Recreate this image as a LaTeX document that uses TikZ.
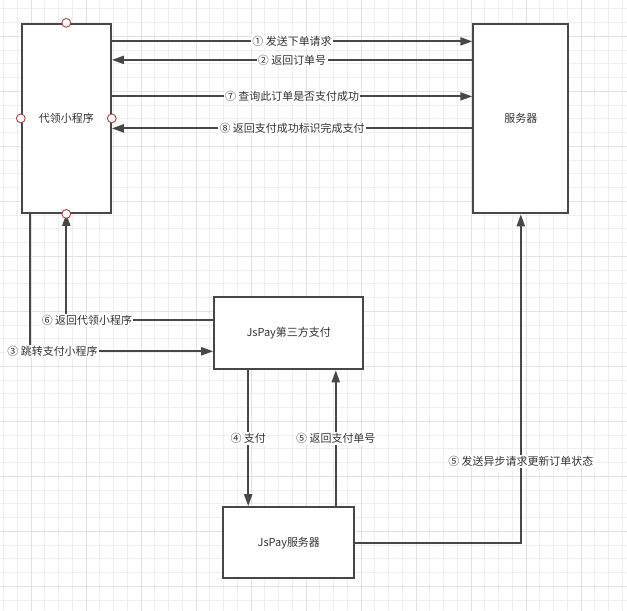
\documentclass[tikz,border=0pt]{standalone}
\usepackage{fontspec}
\setmainfont{Noto Sans CJK SC}
\usetikzlibrary{arrows.meta, positioning, calc}

\definecolor{linegray}{HTML}{474747}
\definecolor{textgray}{HTML}{333333}
\definecolor{gridlight}{HTML}{EFEFEF}
\definecolor{griddark}{HTML}{E2E2E2}
\definecolor{portred}{HTML}{A83A3A}

\begin{document}
\begin{tikzpicture}[
  x=0.025cm, y=-0.025cm,
  box/.style={draw=linegray, line width=1.4pt, fill=white, align=center, font=\fontsize{7.8}{9}\selectfont, text=textgray, inner sep=0pt},
  flow/.style={draw=linegray, line width=1.4pt, -{Triangle[length=0.3cm, width=0.2cm]}},
  lbl/.style={fill=white, font=\fontsize{7.8}{9}\selectfont, text=textgray, inner sep=1pt},
  port/.style={circle, draw=portred, fill=white, line width=0.6pt, minimum size=0.22cm, inner sep=0pt}
]
\useasboundingbox (0,0) rectangle (627,611);

% Background grid
\fill[white] (0,0) rectangle (627,611);
\foreach \k in {0,...,45} {
  \draw[gridlight, line width=0.7pt] ({3.55+13.75*\k},0) -- ({3.55+13.75*\k},611);
}
\foreach \k in {0,...,43} {
  \draw[gridlight, line width=0.7pt] (0,{8.75+13.75*\k}) -- (627,{8.75+13.75*\k});
}
\foreach \k in {2,6,...,42} {
  \draw[griddark, line width=0.7pt] ({3.55+13.75*\k},0) -- ({3.55+13.75*\k},611);
  \draw[griddark, line width=0.7pt] (0,{8.75+13.75*\k}) -- (627,{8.75+13.75*\k});
}

% Boxes
\node[box, minimum width=2.225cm, minimum height=4.725cm] (app) at (66.3,118.4) {代领小程序};
\node[box, minimum width=2.375cm, minimum height=4.725cm] (srv) at (520.8,118.8) {服务器};
\node[box, minimum width=3.725cm, minimum height=1.8cm] (pay) at (288.7,333.3) {JsPay第三方支付};
\node[box, minimum width=3.275cm, minimum height=1.775cm] (jsrv) at (288.8,542.7) {JsPay服务器};

% Applet <-> server
\coordinate (a1) at ($(app.north east)+(0,18.5)$);
\coordinate (a2) at ($(app.north east)+(0,37)$);
\coordinate (a7) at ($(app.north east)+(0,73.5)$);
\coordinate (a8) at ($(app.north east)+(0,105.5)$);
\draw[flow] (a1) -- (a1 -| srv.west) node[lbl, midway] {① 发送下单请求};
\draw[flow] (a2 -| srv.west) -- (a2) node[lbl, midway] {② 返回订单号};
\draw[flow] (a7) -- (a7 -| srv.west) node[lbl, midway] {⑦ 查询此订单是否支付成功};
\draw[flow] (a8 -| srv.west) -- (a8) node[lbl, midway] {⑧ 返回支付成功标识完成支付};

% Applet <-> third party payment
\draw[flow] ($(app.south west)+(9,0)$) |- ($(pay.west)+(0,18)$) node[lbl, pos=0.562] {③ 跳转支付小程序};
\draw[flow] ($(pay.west)+(0,-13)$) -| (app.south) node[lbl, pos=0.43] {⑥ 返回代领小程序};

% Payment <-> JsPay server
\coordinate (p4) at ($(pay.south west)+(35,0)$);
\coordinate (p5) at ($(jsrv.north west)+(113.5,0)$);
\draw[flow] (p4) -- (p4 |- jsrv.north) node[lbl, midway] {④ 支付};
\draw[flow] (p5) -- (p5 |- pay.south) node[lbl, midway] {⑤ 返回支付单号};

% JsPay server -> server (async)
\draw[flow] (jsrv.east) -| (srv.south) node[lbl, pos=0.624] {⑤ 发送异步请求更新订单状态};

% Connection points
\foreach \a in {north,south,east,west} {
  \node[port] (app-\a) at (app.\a) {};
}

\end{tikzpicture}
\end{document}
